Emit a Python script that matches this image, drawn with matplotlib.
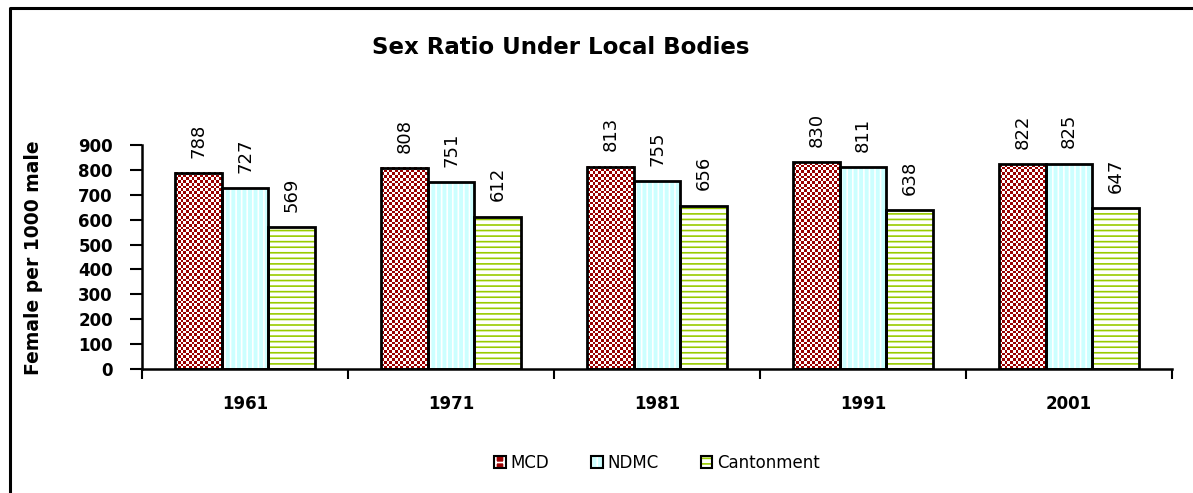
import numpy as np
import matplotlib
matplotlib.use("Agg")
import matplotlib.pyplot as plt
from matplotlib.patches import Patch
from matplotlib.lines import Line2D
from matplotlib.legend_handler import HandlerTuple
from matplotlib.colors import ListedColormap

years = ["1961", "1971", "1981", "1991", "2001"]
mcd = [788, 808, 813, 830, 822]
ndmc = [727, 751, 755, 811, 825]
cantonment = [569, 612, 656, 638, 647]
series_names = ["MCD", "NDMC", "Cantonment"]

plt.rcParams['font.family'] = 'DejaVu Sans'
plt.rcParams['hatch.linewidth'] = 1.2

fig = plt.figure(figsize=(11.93, 4.93), dpi=100)
ax = fig.add_axes([142/1193, 1-369/493, (1172-142)/1193, (369-145)/493])

# face colour, hatch, hatch colour (MCD gets a checkerboard image instead)
styles = [
	('#990000', '', '#990000'),
	('#CCFFFF', '|||', 'white'),
	('white', '---', '#99CC00'),
]
checker_cmap = ListedColormap(['#990000', 'white'])
x = np.arange(len(years))
w = 0.225
handles = []
for i, (vals, (fc, hatch, hc)) in enumerate(zip([mcd, ndmc, cantonment], styles)):
	pos = x + (i-1)*w
	fills = ax.bar(pos, vals, w, color=fc, hatch=hatch, edgecolor=hc, linewidth=0)
	if i == 0:
		for b in fills:
			nx = 17
			ny = int(b.get_height()*224/900/2.7)
			board = np.indices((ny, nx)).sum(axis=0) % 2
			ax.imshow(board, cmap=checker_cmap, interpolation='nearest', aspect='auto',
				extent=(b.get_x(), b.get_x()+b.get_width(), 0, b.get_height()),
				clip_path=b, zorder=1.5)
	bars = ax.bar(pos, vals, w, fill=False, edgecolor='black', linewidth=2, zorder=2)
	for b, v in zip(bars, vals):
		ax.annotate(str(v), (b.get_x()+b.get_width()/2, v), xytext=(0, 11),
			textcoords='offset points', rotation=90, ha='center', va='bottom', fontsize=13)
	hp = Patch(facecolor=fc, hatch=hatch if i else '++', edgecolor=hc if i else 'white', linewidth=0)
	handles.append((hp, Patch(fill=False, edgecolor='black', linewidth=1.5)))

ax.set_xlim(-0.5, len(years)-0.5)
ax.set_ylim(0, 900)
ax.set_yticks(range(0, 1000, 100))
ax.set_xticks(x)
ax.set_xticklabels(years, fontsize=12, fontweight='bold')
ax.set_xticks(np.arange(-0.5, len(years)), minor=True)
ax.tick_params(axis='x', which='major', length=0, pad=19)
ax.tick_params(axis='x', which='minor', length=7, width=1.5, direction='out')
ax.tick_params(axis='y', length=9, width=1.5, pad=12, labelsize=12)
for lab in ax.get_yticklabels():
	lab.set_fontweight('bold')
for s in ['top', 'right']:
	ax.spines[s].set_visible(False)
for s in ['left', 'bottom']:
	ax.spines[s].set_linewidth(1.8)
	ax.spines[s].set_zorder(3)

fig.text(561/1193, 1-48/493, "Sex Ratio Under Local Bodies", ha='center', va='center',
	fontsize=16.5, fontweight='bold')
fig.text(33.5/1193, 1-258/493, "Female per 1000 male", rotation=90, ha='center', va='center',
	fontsize=13.5, fontweight='bold')

fig.legend(handles, series_names, handler_map={tuple: HandlerTuple(ndivide=1)},
	loc='center', bbox_to_anchor=(657/1193, 1-463/493), ncol=3, frameon=False,
	fontsize=12, handlelength=0.7, handleheight=0.7, handletextpad=0.3, columnspacing=2.5)

# outer chart border (only top and left edges are in view)
fig.add_artist(Line2D([10/1193, 10/1193, 1], [0, 1-8/493, 1-8/493], color='black', linewidth=2.2))

fig.savefig('out.png', dpi=100)
